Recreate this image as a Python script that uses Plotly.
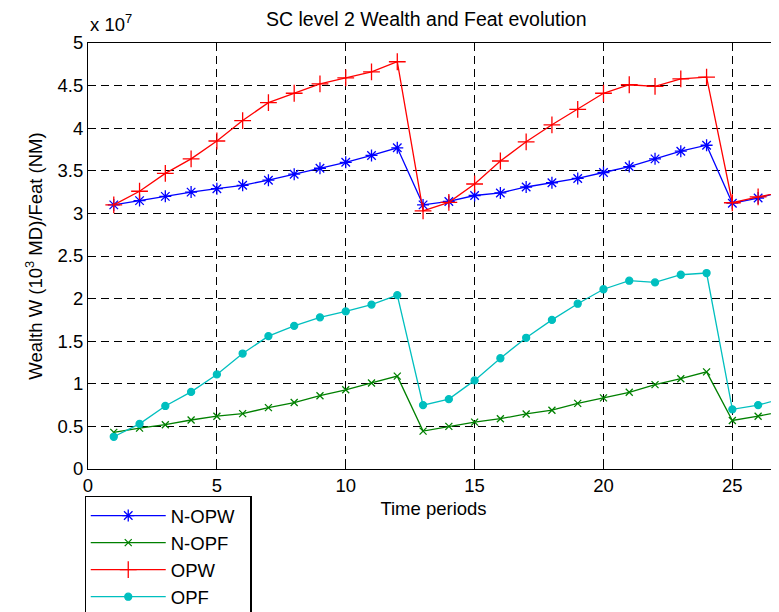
import plotly.graph_objects as go

# Time periods
periods = list(range(1, 28))

# Values in units of 10^7
n_opw = [3.10, 3.15, 3.20, 3.25, 3.29, 3.33, 3.39, 3.46, 3.53, 3.60, 3.68, 3.77,
         3.10, 3.14, 3.21, 3.24, 3.31, 3.36, 3.41, 3.48, 3.55, 3.64, 3.73, 3.80,
         3.12, 3.18, 3.26]
n_opf = [0.43, 0.48, 0.52, 0.575, 0.62, 0.65, 0.72, 0.78, 0.86, 0.93, 1.01, 1.09,
         0.445, 0.50, 0.55, 0.59, 0.646, 0.69, 0.77, 0.835, 0.90, 0.99, 1.06, 1.14,
         0.57, 0.62, 0.68]
opw = [3.10, 3.26, 3.47, 3.64, 3.85, 4.09, 4.30, 4.41, 4.52, 4.59, 4.66, 4.78,
       3.03, 3.13, 3.345, 3.615, 3.84, 4.04, 4.22, 4.41, 4.51, 4.49, 4.58, 4.60,
       3.125, 3.195, 3.25]
opf = [0.378, 0.53, 0.74, 0.905, 1.11, 1.355, 1.56, 1.68, 1.78, 1.85, 1.93, 2.04,
       0.75, 0.82, 1.04, 1.30, 1.54, 1.75, 1.94, 2.11, 2.21, 2.19, 2.28, 2.30,
       0.70, 0.75, 0.83]

series = [
    ("N-OPW\u00a0\u00a0", n_opw, "#0000FF", "asterisk-open", 10),
    ("N-OPF", n_opf, "#008000", "x-thin-open", 7),
    ("OPW", opw, "#FF0000", "cross-thin-open", 12),
    ("OPF", opf, "#00BFBF", "circle", 7),
]

FONT = "Liberation Sans, Arial, sans-serif"
FS = 18.5

fig = go.Figure()
for i, (name, vals, color, sym, size) in enumerate(series):
    fig.add_trace(go.Scatter(
        x=periods, y=vals, name=name, mode="lines+markers",
        line=dict(color=color, width=1.3),
        marker=dict(symbol=sym, size=size, color=color,
                    line=dict(color=color, width=1.3)),
    ))

fig.update_layout(
    width=779, height=612,
    margin=dict(l=79.5, r=8, t=35, b=150.5, autoexpand=False),
    paper_bgcolor="white", plot_bgcolor="white",
    font=dict(family=FONT, size=FS, color="black"),
    showlegend=True,
    legend=dict(
        x=-0.005, y=-0.063, xanchor="left", yanchor="top",
        bgcolor="white", bordercolor="black", borderwidth=1.2,
        font=dict(family=FONT, size=FS, color="black"),
        tracegroupgap=0, itemwidth=75,
    ),
    annotations=[
        dict(text="SC level 2 Wealth and Feat evolution", xref="paper", yref="paper",
             x=0.4895, y=1.0, yshift=24, xanchor="center", yanchor="middle",
             showarrow=False, font=dict(family=FONT, size=19.5)),
        dict(text="x 10<sup>7</sup>", xref="paper", yref="paper",
             x=0.0, y=1.0, xanchor="left", yanchor="bottom", yshift=6,
             showarrow=False, font=dict(family=FONT, size=FS)),
    ],
)

fig.update_xaxes(
    range=[0, 26.81], tick0=0, dtick=5, automargin=False,
    showline=True, linecolor="black", linewidth=1.2, mirror="ticks",
    ticks="inside", ticklen=5, tickcolor="black",
    showgrid=True, gridcolor="black", gridwidth=1, griddash="8px,5px",
    zeroline=False,
    title=dict(text="Time periods", standoff=6, font=dict(family=FONT, size=FS)),
)
fig.update_yaxes(
    range=[0, 5], tick0=0, dtick=0.5, automargin=False,
    showline=True, linecolor="black", linewidth=1.2,
    ticks="inside", ticklen=5, tickcolor="black",
    showgrid=True, gridcolor="black", gridwidth=1, griddash="8px,5px",
    zeroline=False,
    title=dict(text="Wealth W (10<sup>3</sup> MD)/Feat (NM)", standoff=10,
               font=dict(family=FONT, size=FS)),
)

fig.write_html("out.html")
